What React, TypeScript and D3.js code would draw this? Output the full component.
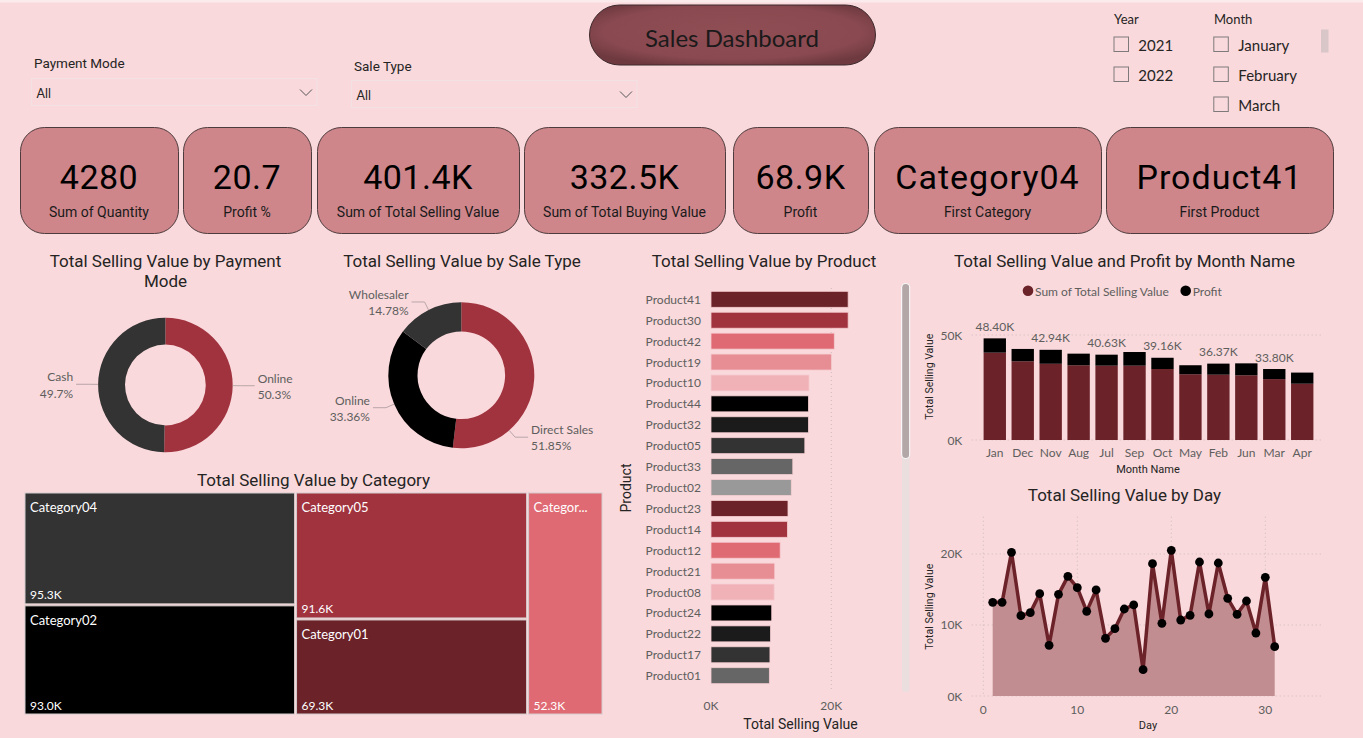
import React from 'react';
import * as d3 from 'd3';

const W = 1363;
const H = 738;
const DIN = "Roboto, 'DejaVu Sans', sans-serif";
const SEG = "'Segoe UI', Lato, 'Open Sans', sans-serif";

const BG = '#F9D9DC';
const TITLE_C = '#252423';
const AXIS_C = '#605E5C';
const MAROON = '#6B2228';
const RED = '#A1333F';
const CORAL = '#DF6A73';
const PINK = '#E78D94';
const LPINK = '#F0B2B7';
const BLACK = '#000000';
const NEAR_BLACK = '#1B1B1B';
const DARK = '#333333';
const MID_GREY = '#666666';
const LIGHT_GREY = '#999999';

// ---------- DATA ----------
const paymentModeOptions = ['All'];
const saleTypeOptions = ['All'];
const yearItems = ['2021', '2022'];
const monthItems = ['January', 'February', 'March'];

const kpiValues = ['4280', '20.7', '401.4K', '332.5K', '68.9K', 'Category04', 'Product41'];
const kpiLabels = [
  'Sum of Quantity',
  'Profit %',
  'Sum of Total Selling Value',
  'Sum of Total Buying Value',
  'Profit',
  'First Category',
  'First Product',
];

const paymentModes = ['Online', 'Cash'];
const paymentShares = [50.3, 49.7];
const paymentColors = [RED, DARK];

const saleTypes = ['Direct Sales', 'Online', 'Wholesaler'];
const saleTypeShares = [51.85, 33.36, 14.78];
const saleTypeColors = [RED, BLACK, DARK];

const categories = ['Category04', 'Category02', 'Category05', 'Category01', 'Category03'];
const categoryValues = [95.3, 93.0, 91.6, 69.3, 52.3];
const categoryColors = [DARK, BLACK, RED, MAROON, CORAL];

const products = [
  'Product41', 'Product30', 'Product42', 'Product19', 'Product10', 'Product44', 'Product32',
  'Product05', 'Product33', 'Product02', 'Product23', 'Product14', 'Product12', 'Product21',
  'Product08', 'Product24', 'Product22', 'Product17', 'Product01',
];
const productValues = [
  22.8, 22.8, 20.5, 20.05, 16.3, 16.2, 16.2, 15.6, 13.6, 13.35, 12.8, 12.7, 11.5, 10.6, 10.5,
  10.1, 9.9, 9.8, 9.7,
];
const productPalette = [MAROON, RED, CORAL, PINK, LPINK, BLACK, NEAR_BLACK, DARK, MID_GREY, LIGHT_GREY];

const months = ['Jan', 'Dec', 'Nov', 'Aug', 'Jul', 'Sep', 'Oct', 'May', 'Feb', 'Jun', 'Mar', 'Apr'];
const monthSelling = [41.6, 37.46, 36.3, 35.56, 35.4, 35.4, 33.8, 31.3, 31.1, 30.8, 29.0, 26.8];
const monthProfit = [6.8, 5.9, 6.64, 5.56, 5.23, 6.5, 5.36, 4.3, 5.27, 5.7, 4.8, 5.3];
const monthLabelShown = [true, false, true, false, true, false, true, false, true, false, true, false];
const monthTicks = [0, 50];

const days = [
  1, 2, 3, 4, 5, 6, 7, 8, 9, 10, 11, 12, 13, 14, 15, 16, 17, 18, 19, 20, 21, 22, 23, 24, 25, 26,
  27, 28, 29, 30, 31,
];
const dayValues = [
  13.19, 13.19, 20.23, 11.31, 11.74, 14.41, 7.14, 14.32, 16.85, 15.26, 11.92, 14.93, 8.12, 9.48,
  12.25, 12.82, 3.71, 18.64, 10.23, 20.52, 10.7, 11.36, 18.87, 11.55, 18.73, 13.76, 11.5, 13.38,
  8.87, 16.71, 6.95,
];
const dayYTicks = [0, 10, 20];
const dayXTicks = [0, 10, 20, 30];
const productTicks = [0, 20];

// ---------- helpers ----------
const kfmt = (v: number) => `${d3.format('.0f')(v)}K`;

function Donut(props: {
  cx: number;
  cy: number;
  r: number;
  names: string[];
  values: number[];
  colors: string[];
  pctFormat: string;
  labelAngles: (number | null)[];
}) {
  const { cx, cy, r, names, values, colors, pctFormat, labelAngles } = props;
  const pie = d3.pie<number>().sort(null).value((d) => d)(values);
  const arc = d3.arc<d3.PieArcDatum<number>>().innerRadius(r * 0.6).outerRadius(r);
  const fmt = d3.format(pctFormat);
  return (
    <g>
      <g transform={`translate(${cx},${cy})`}>
        {pie.map((p, i) => (
          <path key={i} d={arc(p) || ''} fill={colors[i]} />
        ))}
      </g>
      {pie.map((p, i) => {
        const a = labelAngles[i] != null ? ((labelAngles[i] as number) * Math.PI) / 180 : (p.startAngle + p.endAngle) / 2;
        const sx = Math.sin(a);
        const sy = -Math.cos(a);
        const x0 = cx + r * sx;
        const y0 = cy + r * sy;
        const x1 = cx + (r + 9) * sx;
        const y1 = cy + (r + 9) * sy;
        const right = sx >= 0;
        const x2 = x1 + (right ? 13 : -13);
        const tx = x2 + (right ? 3 : -3);
        const anchor = right ? 'start' : 'end';
        return (
          <g key={`l${i}`}>
            <polyline
              points={`${x0},${y0} ${x1},${y1} ${x2},${y1}`}
              fill="none"
              stroke="#B9A6A8"
              strokeWidth={1}
            />
            <text x={tx} y={y1 - 7.5} textAnchor={anchor} dominantBaseline="central" fontFamily={SEG} fontSize={12} fill={AXIS_C}>
              {names[i]}
            </text>
            <text x={tx} y={y1 + 8.8} textAnchor={anchor} dominantBaseline="central" fontFamily={SEG} fontSize={12} fill={AXIS_C}>
              {fmt(values[i])}%
            </text>
          </g>
        );
      })}
    </g>
  );
}

function Title(props: { x: number; y: number; text: string }) {
  return (
    <text x={props.x} y={props.y} textAnchor="middle" dominantBaseline="central" fontFamily={DIN} fontWeight={400} fontSize={17} fill={TITLE_C}>
      {props.text}
    </text>
  );
}

export default function App() {
  React.useEffect(() => {
    document.body.style.margin = '0';
    document.body.style.overflow = 'hidden';
    document.body.style.background = BG;
  }, []);

  // KPI layout
  const cardX = [
    [20, 178], [183, 311], [317, 519], [524, 725], [733, 868], [874, 1101], [1106, 1333],
  ];

  // treemap
  const tmRoot = d3
    .hierarchy({ name: 'root', children: categories.map((c, i) => ({ name: c, value: categoryValues[i], color: categoryColors[i] })) } as any)
    .sum((d: any) => d.value || 0)
    .sort((a, b) => (b.value || 0) - (a.value || 0));
  d3.treemap<any>().size([577, 221]).paddingInner(2).round(false)(tmRoot);
  const tmX = 25;
  const tmY = 493;
  const truncate = (name: string, w: number) => {
    const cw = 6.8;
    if (name.length * cw <= w - 10) return name;
    const n = Math.max(1, Math.floor((w - 10) / cw) - 2);
    return name.slice(0, n) + '...';
  };

  // product bars
  const pY = d3.scaleBand<string>().domain(products).range([286.5, 688.5]).paddingInner(0.235).paddingOuter(0.23);
  const pX = d3.scaleLinear().domain([0, 20]).range([711, 831.3]);

  // month chart
  const mX = d3.scaleBand<string>().domain(months).range([972, 1325]).paddingInner(0.2).paddingOuter(0.415);
  const mY = d3.scaleLinear().domain([0, 50]).range([440, 335]);

  // day chart
  const dX = d3.scaleLinear().domain([0, 36]).range([983.3, 1321.7]);
  const dY = d3.scaleLinear().domain([0, 25.25]).range([696, 516.7]);
  const dayPts = days.map((d, i) => [d, dayValues[i]] as [number, number]);
  const area = d3
    .area<[number, number]>()
    .x((d) => dX(d[0]))
    .y0(dY(0))
    .y1((d) => dY(d[1]))(dayPts);
  const line = d3
    .line<[number, number]>()
    .x((d) => dX(d[0]))
    .y((d) => dY(d[1]))(dayPts);

  return (
    <svg width={W} height={H} viewBox={`0 0 ${W} ${H}`} style={{ display: 'block', position: 'absolute', left: 0, top: 0 }}>
      <defs>
        <radialGradient id="pill" cx="50%" cy="45%" r="60%">
          <stop offset="0%" stopColor="#8F4D54" />
          <stop offset="75%" stopColor="#8A4950" />
          <stop offset="100%" stopColor="#6E3A40" />
        </radialGradient>
      </defs>
      <rect x={0} y={0} width={W} height={H} fill={BG} />
      <rect x={0} y={0} width={W} height={2.5} fill="#FCEBED" />

      {/* Title pill */}
      <rect x={589.5} y={5} width={286} height={60} rx={30} fill="url(#pill)" stroke="#3E2A2D" strokeWidth={1} />
      <text x={732} y={37} textAnchor="middle" dominantBaseline="central" fontFamily={SEG} fontSize={24} fill="#1A1A1A">
        Sales Dashboard
      </text>

      {/* Filters */}
      {[
        { label: 'Payment Mode', lx: 34, ly: 62.5, bx: 31.5, by: 78.5, bw: 285.5, opt: paymentModeOptions[0] },
        { label: 'Sale Type', lx: 354, ly: 65.5, bx: 351.5, by: 80.5, bw: 285.5, opt: saleTypeOptions[0] },
      ].map((f, i) => (
        <g key={i}>
          <text x={f.lx} y={f.ly} dominantBaseline="central" fontFamily={DIN} fontSize={13.5} fill={TITLE_C}>
            {f.label}
          </text>
          <rect x={f.bx} y={f.by} width={f.bw} height={27} fill="none" stroke="#F2E2E4" strokeWidth={1} />
          <text x={f.bx + 5} y={f.by + 15} dominantBaseline="central" fontFamily={SEG} fontSize={12.5} fill={TITLE_C}>
            {f.opt}
          </text>
          <polyline
            points={`${f.bx + f.bw - 17},${f.by + 11} ${f.bx + f.bw - 11},${f.by + 17} ${f.bx + f.bw - 5},${f.by + 11}`}
            fill="none"
            stroke="#555"
            strokeWidth={1}
          />
        </g>
      ))}

      {/* Year / Month slicers */}
      <text x={1114} y={18.5} dominantBaseline="central" fontFamily={SEG} fontSize={13} fill={TITLE_C}>
        Year
      </text>
      {yearItems.map((y, i) => (
        <g key={y}>
          <rect x={1114} y={37 + i * 30} width={14.5} height={14.5} fill="none" stroke="#7E7A7B" strokeWidth={1} />
          <text x={1138.3} y={45 + i * 30} dominantBaseline="central" fontFamily={SEG} fontSize={15} fill={TITLE_C}>
            {y}
          </text>
        </g>
      ))}
      <text x={1214} y={18.5} dominantBaseline="central" fontFamily={SEG} fontSize={13} fill={TITLE_C}>
        Month
      </text>
      {monthItems.map((m, i) => (
        <g key={m}>
          <rect x={1213.8} y={37 + i * 30} width={14.5} height={14.5} fill="none" stroke="#7E7A7B" strokeWidth={1} />
          <text x={1238.3} y={45 + i * 30} dominantBaseline="central" fontFamily={SEG} fontSize={15} fill={TITLE_C}>
            {m}
          </text>
        </g>
      ))}
      <rect x={1321} y={29.5} width={7.5} height={23} fill="#D8C6C8" />

      {/* KPI cards */}
      {kpiValues.map((v, i) => {
        const [x0, x1] = cardX[i];
        const cx = (x0 + x1) / 2;
        return (
          <g key={i}>
            <rect x={x0 + 0.5} y={127.5} width={x1 - x0} height={106} rx={24} fill="#CE868B" stroke="#4E3B3D" strokeWidth={1} />
            <text x={cx} y={188.5} textAnchor="middle" fontFamily={DIN} fontSize={34} letterSpacing={i >= 5 ? 1 : 0.5} fill="#000">
              {v}
            </text>
            <text x={cx} y={212} textAnchor="middle" dominantBaseline="central" fontFamily={DIN} fontSize={14} fill="#1A1A1A">
              {kpiLabels[i]}
            </text>
          </g>
        );
      })}

      {/* Payment mode donut */}
      <Title x={165.5} y={261} text="Total Selling Value by Payment" />
      <Title x={165.5} y={281} text="Mode" />
      <Donut cx={165.4} cy={385} r={67.3} names={paymentModes} values={paymentShares} colors={paymentColors} pctFormat=".1f" labelAngles={[null, null]} />

      {/* Sale type donut */}
      <Title x={462} y={261} text="Total Selling Value by Sale Type" />
      <Donut cx={461.3} cy={375.3} r={73} names={saleTypes} values={saleTypeShares} colors={saleTypeColors} pctFormat=".2f" labelAngles={[139, null, null]} />

      {/* Treemap */}
      <Title x={313.5} y={480} text="Total Selling Value by Category" />
      <g transform={`translate(${tmX},${tmY})`}>
        {tmRoot.leaves().map((n: any, i: number) => {
          const w = n.x1 - n.x0;
          return (
            <g key={i}>
              <rect x={n.x0} y={n.y0} width={w} height={n.y1 - n.y0} fill={n.data.color} stroke="#D4CACB" strokeWidth={1} />
              <text x={n.x0 + 5} y={n.y0 + 14} dominantBaseline="central" fontFamily={SEG} fontSize={13} fill="#FFFFFF">
                {truncate(n.data.name, w)}
              </text>
              <text x={n.x0 + 5} y={n.y1 - 9} dominantBaseline="central" fontFamily={SEG} fontSize={12} fill="#FFFFFF">
                {`${d3.format('.1f')(n.value)}K`}
              </text>
            </g>
          );
        })}
      </g>

      {/* Product bar chart */}
      <Title x={764} y={261} text="Total Selling Value by Product" />
      {productTicks
        .filter((t) => t > 0)
        .map((t) => (
          <line key={t} x1={pX(t)} x2={pX(t)} y1={288} y2={692} stroke="#CDB9BB" strokeDasharray="1 3" />
        ))}
      {products.map((p, i) => (
        <g key={p}>
          <rect
            x={pX(0)}
            y={pY(p)!}
            width={pX(productValues[i]) - pX(0)}
            height={pY.bandwidth()}
            fill={productPalette[i % productPalette.length]}
            stroke="#F5CDD1"
            strokeWidth={0.8}
          />
          <text x={701} y={pY(p)! + pY.bandwidth() / 2} textAnchor="end" dominantBaseline="central" fontFamily={SEG} fontSize={12} fill={AXIS_C}>
            {p}
          </text>
        </g>
      ))}
      {productTicks.map((t) => (
        <text key={t} x={pX(t)} y={705} textAnchor="middle" dominantBaseline="central" fontFamily={SEG} fontSize={12} fill={AXIS_C}>
          {kfmt(t)}
        </text>
      ))}
      <text x={800.5} y={724} textAnchor="middle" dominantBaseline="central" fontFamily={DIN} fontSize={14} fill={TITLE_C}>
        Total Selling Value
      </text>
      <text transform="translate(626,488) rotate(-90)" textAnchor="middle" dominantBaseline="central" fontFamily={DIN} fontSize={14} fill={TITLE_C}>
        Product
      </text>
      {/* scrollbar */}
      <rect x={902} y={283} width={7.5} height={409} rx={3} fill="#EADEDF" />
      <rect x={901.7} y={283.5} width={8} height={175} rx={3.5} fill="#B3A7A8" stroke="#FFFFFF" strokeWidth={1} />

      {/* Month chart */}
      <Title x={1124.5} y={261} text="Total Selling Value and Profit by Month Name" />
      <circle cx={1028} cy={290.7} r={5.3} fill={MAROON} />
      <text x={1035} y={291} dominantBaseline="central" fontFamily={SEG} fontSize={12} fill={AXIS_C}>
        Sum of Total Selling Value
      </text>
      <circle cx={1185.7} cy={290.7} r={5.3} fill={BLACK} />
      <text x={1192.7} y={291} dominantBaseline="central" fontFamily={SEG} fontSize={12} fill={AXIS_C}>
        Profit
      </text>
      {monthTicks.map((t) => (
        <g key={t}>
          <line x1={971.7} x2={1321.7} y1={mY(t)} y2={mY(t)} stroke="#CDB9BB" strokeDasharray="1 3" />
          <text x={962.3} y={mY(t)} textAnchor="end" dominantBaseline="central" fontFamily={SEG} fontSize={12} fill={AXIS_C}>
            {kfmt(t)}
          </text>
        </g>
      ))}
      {months.map((m, i) => {
        const x = mX(m)!;
        const bw = mX.bandwidth();
        const total = monthSelling[i] + monthProfit[i];
        return (
          <g key={m}>
            <rect x={x} y={mY(monthSelling[i])} width={bw} height={mY(0) - mY(monthSelling[i])} fill={MAROON} />
            <rect x={x} y={mY(total)} width={bw} height={mY(monthSelling[i]) - mY(total)} fill={BLACK} />
            {monthLabelShown[i] && (
              <text x={x + bw / 2} y={mY(total) - 12} textAnchor="middle" dominantBaseline="central" fontFamily={SEG} fontSize={12} fill={AXIS_C}>
                {`${d3.format('.2f')(total)}K`}
              </text>
            )}
            <text x={x + bw / 2} y={452.3} textAnchor="middle" dominantBaseline="central" fontFamily={SEG} fontSize={12} fill={AXIS_C}>
              {m}
            </text>
          </g>
        );
      })}
      <text x={1148} y={469} textAnchor="middle" dominantBaseline="central" fontFamily={DIN} fontSize={11} fill={TITLE_C}>
        Month Name
      </text>
      <text transform="translate(929.5,376.7) rotate(-90)" textAnchor="middle" dominantBaseline="central" fontFamily={DIN} fontSize={10.5} fill={TITLE_C}>
        Total Selling Value
      </text>

      {/* Day chart */}
      <Title x={1124.5} y={495} text="Total Selling Value by Day" />
      {dayXTicks.map((t) => (
        <g key={`x${t}`}>
          <line x1={dX(t)} x2={dX(t)} y1={516.7} y2={696} stroke="#CDB9BB" strokeDasharray="1 3" />
          <text x={dX(t)} y={709} textAnchor="middle" dominantBaseline="central" fontFamily={SEG} fontSize={12} fill={AXIS_C}>
            {t}
          </text>
        </g>
      ))}
      {dayYTicks.map((t) => (
        <g key={`y${t}`}>
          <line x1={971.7} x2={1321.7} y1={dY(t)} y2={dY(t)} stroke="#CDB9BB" strokeDasharray="1 3" />
          <text x={962.3} y={dY(t)} textAnchor="end" dominantBaseline="central" fontFamily={SEG} fontSize={12} fill={AXIS_C}>
            {kfmt(t)}
          </text>
        </g>
      ))}
      <path d={area || ''} fill="#C18D90" />
      <path d={line || ''} fill="none" stroke={MAROON} strokeWidth={3.5} strokeLinejoin="round" />
      {dayPts.map((d) => (
        <circle key={d[0]} cx={dX(d[0])} cy={dY(d[1])} r={4.4} fill="#000" />
      ))}
      <text x={1148} y={725.5} textAnchor="middle" dominantBaseline="central" fontFamily={DIN} fontSize={11} fill={TITLE_C}>
        Day
      </text>
      <text transform="translate(929.5,606.7) rotate(-90)" textAnchor="middle" dominantBaseline="central" fontFamily={DIN} fontSize={10.5} fill={TITLE_C}>
        Total Selling Value
      </text>
    </svg>
  );
}
